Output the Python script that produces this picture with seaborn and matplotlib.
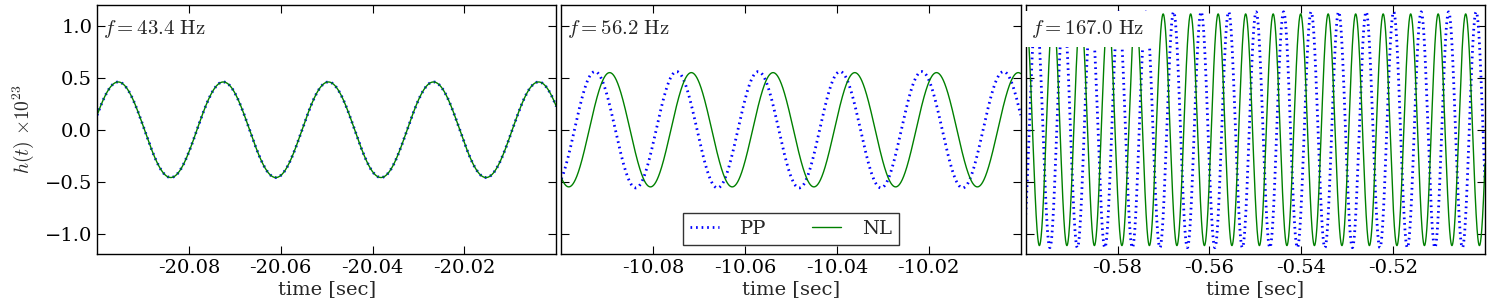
import numpy as np
import pandas as pd
import matplotlib
matplotlib.use('Agg')
import matplotlib.pyplot as plt
import seaborn as sns

# window start of each panel [sec], every window is 0.1 s wide
t_start = [-20.1, -10.1, -0.6]
t_width = 0.1

freq_label = ['43.4', '56.2', '167.0']
freq_hz = [43.7, 56.2, 167.0]

# amplitude (x 1e23) and time of one wave crest for the two models
amp_pp = [0.46, 0.56, 1.135]
amp_nl = [0.46, 0.55, 1.115]
crest_pp = [-20.0954, -10.0927, -0.55582]
crest_nl = [-20.0954, -10.0895, -0.55810]

xtick_vals = [[-20.08, -20.06, -20.04, -20.02],
              [-10.08, -10.06, -10.04, -10.02],
              [-0.58, -0.56, -0.54, -0.52]]
xtick_labels = [['-20.08', '-20.06', '-20.04', '-20.02'],
                ['-10.08', '-10.06', '-10.04', '-10.02'],
                ['-0.58', '-0.56', '-0.54', '-0.52']]
ytick_vals = [-1.0, -0.5, 0.0, 0.5, 1.0]

sns.set_style('ticks')
plt.rcParams['font.family'] = ['DejaVu Serif']
plt.rcParams['mathtext.fontset'] = 'cm'
plt.rcParams['axes.linewidth'] = 1.0

fig, axes = plt.subplots(1, 3, figsize=(15, 3), dpi=100, sharey=True)
fig.subplots_adjust(left=0.0647, right=0.99, bottom=0.152, top=0.983, wspace=0.011)

for i, ax in enumerate(axes):
    t = np.linspace(t_start[i], t_start[i] + t_width, 3000)
    w = 2 * np.pi * freq_hz[i]
    df = pd.DataFrame({
        'time': t,
        'PP': amp_pp[i] * np.cos(w * (t - crest_pp[i])),
        'NL': amp_nl[i] * np.cos(w * (t - crest_nl[i])),
    })
    sns.lineplot(data=df, x='time', y='PP', ax=ax, color='blue', lw=2.0,
                 linestyle=(0, (0.6, 1.4)), label='PP', estimator=None, legend=False)
    sns.lineplot(data=df, x='time', y='NL', ax=ax, color='green', lw=1.0,
                 label='NL', estimator=None, legend=False)

    ax.set_xlim(t_start[i], t_start[i] + t_width)
    ax.set_ylim(-1.2, 1.2)
    ax.set_xticks(xtick_vals[i])
    ax.set_xticklabels(xtick_labels[i])
    ax.set_yticks(ytick_vals)
    ax.tick_params(direction='in', top=True, right=True, length=6, width=0.8,
                   labelsize=14, colors='black')
    for s in ax.spines.values():
        s.set_color('black')
    ax.set_xlabel('time [sec]', fontsize=14, labelpad=2)
    ax.set_ylabel('')

    box = dict(facecolor='white', edgecolor='none', pad=5) if i == 2 else None
    ax.text(0.012, 0.905, r'$f = %s\ \mathrm{Hz}$' % freq_label[i], transform=ax.transAxes,
            fontsize=15, ha='left', va='center', bbox=box, zorder=5)

axes[0].set_ylabel(r'$h(t)\ {\times}10^{23}$', fontsize=14, labelpad=6)
axes[1].tick_params(labelleft=False)
axes[2].tick_params(labelleft=False)

leg = axes[1].legend(loc='lower center', ncol=2, fontsize=14, frameon=True, fancybox=False,
                     borderaxespad=0.5, borderpad=0.35, handlelength=1.5,
                     columnspacing=2.3, handletextpad=1.1)
leg.get_frame().set_edgecolor('black')
leg.get_frame().set_linewidth(1.0)

fig.savefig('out.png', dpi=100)
